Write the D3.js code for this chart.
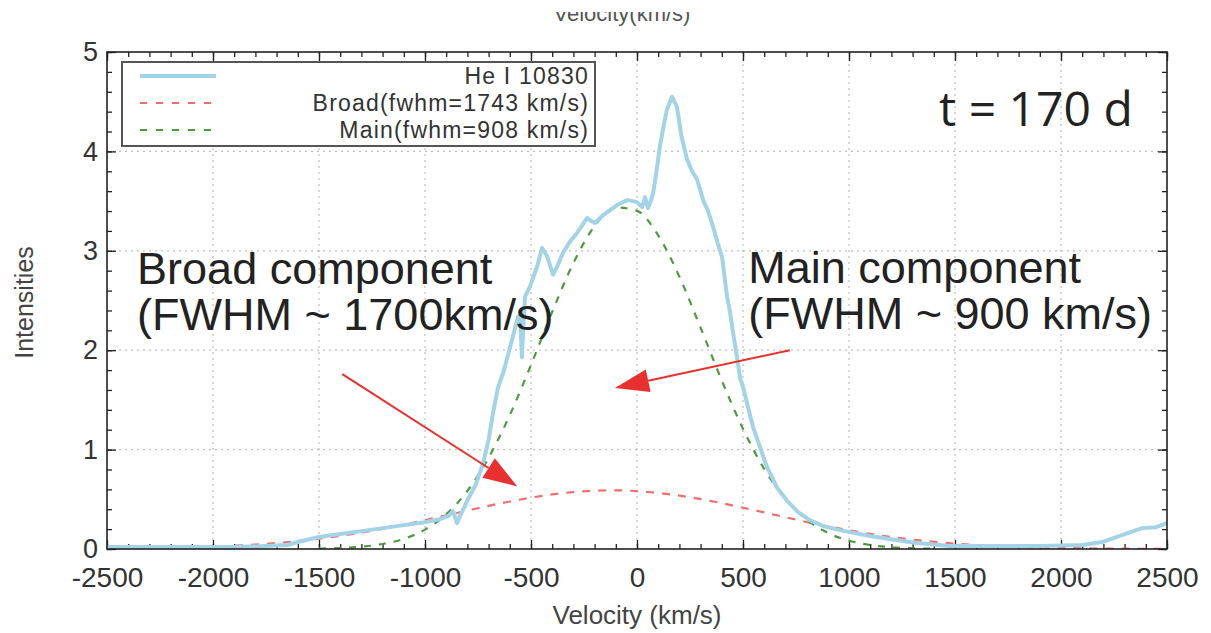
<!DOCTYPE html>
<html>
<head>
<meta charset="utf-8">
<script src="https://cdn.jsdelivr.net/npm/d3@7"></script>
<style>
  html, body { margin: 0; padding: 0; background: #fff; }
  svg { display: block; }
</style>
</head>
<body>
<svg id="chart" width="1211" height="633"></svg>
<script>
// ---------- data ----------
const heVelocity = [-2500,-2300,-2100,-1900,-1750,-1650,-1600,-1500,-1400,-1300,-1200,-1100,-1000,-930,-890,-868,-855,-849,-835,-800,-760,-726,-700,-679,-656,-630,-590,-561,-550,-543,-536,-528,-505,-470,-448,-425,-396,-375,-349,-320,-283,-260,-236,-215,-198,-160,-120,-94,-47,-20,0,24,38,52,65,76,92,108,125,141,165,188,210,236,260,283,312,335,359,380,401,425,439,455,472,486,500,547,612,660,706,760,815,880,956,1004,1100,1191,1318,1474,1700,1900,2100,2194,2288,2382,2448,2500];
const heIntensity = [0.02,0.02,0.02,0.02,0.03,0.04,0.07,0.12,0.15,0.18,0.21,0.24,0.27,0.30,0.33,0.38,0.30,0.26,0.33,0.49,0.65,0.86,1.10,1.37,1.62,1.78,2.10,2.34,2.30,1.93,2.25,2.54,2.64,2.85,3.03,2.95,2.76,2.85,2.98,3.08,3.18,3.25,3.33,3.30,3.28,3.36,3.42,3.46,3.51,3.50,3.49,3.44,3.54,3.43,3.50,3.58,3.80,4.05,4.25,4.42,4.55,4.45,4.15,3.92,3.80,3.72,3.51,3.40,3.24,3.08,2.94,2.54,2.38,2.15,1.93,1.72,1.63,1.23,0.83,0.62,0.49,0.37,0.29,0.23,0.19,0.17,0.13,0.10,0.06,0.03,0.03,0.03,0.04,0.07,0.14,0.21,0.22,0.26];

const broadVelocity = [-2500,-2400,-2300,-2200,-2100,-2000,-1900,-1800,-1700,-1600,-1500,-1400,-1300,-1200,-1100,-1000,-900,-800,-700,-600,-500,-400,-300,-200,-100,0,100,200,300,400,500,600,700,800,900,1000,1100,1200,1300,1400,1500,1600,1700,1800,1900,2000,2100,2200,2300,2400,2500];
const broadIntensity = [0.003,0.005,0.008,0.011,0.017,0.023,0.033,0.045,0.060,0.080,0.104,0.132,0.166,0.203,0.245,0.291,0.338,0.387,0.434,0.478,0.517,0.549,0.573,0.587,0.590,0.582,0.564,0.537,0.502,0.461,0.415,0.368,0.319,0.272,0.228,0.188,0.152,0.120,0.094,0.072,0.054,0.040,0.029,0.020,0.014,0.010,0.007,0.004,0.003,0.002,0.001];

const mainVelocity = [-1500,-1400,-1300,-1200,-1100,-1000,-900,-800,-700,-600,-500,-400,-300,-200,-100,0,100,200,300,400,500,600,700,800,900,1000,1100,1200,1300,1400];
const mainIntensity = [0.004,0.010,0.023,0.050,0.102,0.195,0.349,0.584,0.917,1.347,1.852,2.386,2.877,3.249,3.436,3.402,3.155,2.739,2.226,1.695,1.209,0.806,0.504,0.295,0.162,0.083,0.040,0.018,0.008,0.003];

const seriesNames = ["He I 10830", "Broad(fwhm=1743 km/s)", "Main(fwhm=908 km/s)"];
const xTicks = [-2500,-2000,-1500,-1000,-500,0,500,1000,1500,2000,2500];
const yTicks = [0,1,2,3,4,5];

// ---------- layout ----------
const svg = d3.select("#chart");
const L = 107, R = 1167, T = 52, B = 549;
const x = d3.scaleLinear().domain([-2500, 2500]).range([L, R]);
const y = d3.scaleLinear().domain([0, 5]).range([B, T]);

const COL_HE = "#a3d3e6", COL_BROAD = "#f26d6d", COL_MAIN = "#4f9a40", COL_ARROW = "#e8312e";
const FONT = "'Liberation Sans', Arial, sans-serif";

svg.append("defs").append("clipPath").attr("id", "plotclip")
  .append("rect").attr("x", L).attr("y", T).attr("width", R - L).attr("height", B - T);
svg.select("defs").append("clipPath").attr("id", "topclip")
  .append("rect").attr("x", 0).attr("y", 12).attr("width", 1211).attr("height", 40);

// cut-off top axis label
svg.append("text").attr("x", 622).attr("y", 21).attr("text-anchor", "middle")
  .attr("clip-path", "url(#topclip)")
  .style("font-family", FONT).style("font-size", "22px").style("fill", "#555")
  .text("Velocity(km/s)");

// grid
const grid = svg.append("g").attr("stroke", "#bdbdbd").attr("stroke-width", 1.2).attr("stroke-dasharray", "2,4");
grid.selectAll(".gx").data(xTicks.slice(1, -1)).join("line")
  .attr("x1", d => x(d)).attr("x2", d => x(d)).attr("y1", T).attr("y2", B);
grid.selectAll(".gy").data(yTicks.slice(1, -1)).join("line")
  .attr("x1", L).attr("x2", R).attr("y1", d => y(d)).attr("y2", d => y(d));

// axes with inward ticks on all four sides
const xMinor = d3.range(-2500, 2501, 100);
const yMinor = d3.range(0, 5.001, 0.2);
function addAxis(axisFn, scale, values, size, transform) {
  const g = svg.append("g").attr("transform", transform)
    .call(axisFn(scale).tickValues(values).tickSize(size).tickFormat(""));
  g.select(".domain").remove();
  g.selectAll("line").attr("stroke", "#222").attr("stroke-width", 1.3);
}
addAxis(d3.axisTop, x, xMinor, 5, `translate(0,${B})`);
addAxis(d3.axisTop, x, xTicks, 9, `translate(0,${B})`);
addAxis(d3.axisBottom, x, xMinor, 5, `translate(0,${T})`);
addAxis(d3.axisBottom, x, xTicks, 9, `translate(0,${T})`);
addAxis(d3.axisRight, y, yMinor, 5, `translate(${L},0)`);
addAxis(d3.axisRight, y, yTicks, 9, `translate(${L},0)`);
addAxis(d3.axisLeft, y, yMinor, 5, `translate(${R},0)`);
addAxis(d3.axisLeft, y, yTicks, 9, `translate(${R},0)`);

// tick labels via axis generators (plain hyphen-minus as in the reference)
const xLab = svg.append("g").attr("transform", `translate(0,${B})`)
  .call(d3.axisBottom(x).tickValues(xTicks).tickSize(0).tickPadding(18).tickFormat(d => String(d)));
xLab.select(".domain").remove();
xLab.selectAll("text").style("font-family", FONT).style("font-size", "28px").style("fill", "#333");
const yLab = svg.append("g").attr("transform", `translate(${L},0)`)
  .call(d3.axisLeft(y).tickValues(yTicks).tickSize(0).tickPadding(9).tickFormat(d => String(d)));
yLab.select(".domain").remove();
yLab.selectAll("text").style("font-family", FONT).style("font-size", "27px").style("fill", "#333");

// axis titles
svg.append("text").attr("x", (L + R) / 2).attr("y", 624).attr("text-anchor", "middle")
  .style("font-family", FONT).style("font-size", "26px").style("fill", "#444").text("Velocity (km/s)");
svg.append("text").attr("transform", `translate(33,${(T + B) / 2 + 2}) rotate(-90)`).attr("text-anchor", "middle")
  .style("font-family", FONT).style("font-size", "25px").style("fill", "#444").text("Intensities");

// curves
const plot = svg.append("g").attr("clip-path", "url(#plotclip)");
const line = d3.line().x(d => x(d[0])).y(d => y(d[1]));
plot.append("path").datum(d3.zip(broadVelocity, broadIntensity)).attr("d", line.curve(d3.curveMonotoneX))
  .attr("fill", "none").attr("stroke", COL_BROAD).attr("stroke-width", 2.2).attr("stroke-dasharray", "8,8");
plot.append("path").datum(d3.zip(mainVelocity, mainIntensity)).attr("d", line.curve(d3.curveMonotoneX))
  .attr("fill", "none").attr("stroke", COL_MAIN).attr("stroke-width", 2.2).attr("stroke-dasharray", "7,8");
plot.append("path").datum(d3.zip(heVelocity, heIntensity)).attr("d", line.curve(d3.curveLinear))
  .attr("fill", "none").attr("stroke", COL_HE).attr("stroke-width", 4).attr("stroke-linejoin", "round");

// frame
svg.append("rect").attr("x", L).attr("y", T).attr("width", R - L).attr("height", B - T)
  .attr("fill", "none").attr("stroke", "#222").attr("stroke-width", 1.6);

// legend
const leg = svg.append("g");
leg.append("rect").attr("x", 122).attr("y", 62).attr("width", 473).attr("height", 84)
  .attr("fill", "#fff").attr("stroke", "#555").attr("stroke-width", 2);
const legStyles = [
  {c: COL_HE, w: 4, dash: null},
  {c: COL_BROAD, w: 2.2, dash: "7,9"},
  {c: COL_MAIN, w: 2.2, dash: "7,9"}
];
seriesNames.forEach((name, i) => {
  const cy = 76 + i * 27;
  leg.append("line").attr("x1", 140).attr("x2", 216).attr("y1", cy).attr("y2", cy)
    .attr("stroke", legStyles[i].c).attr("stroke-width", legStyles[i].w)
    .attr("stroke-dasharray", legStyles[i].dash);
  leg.append("text").attr("x", 589).attr("y", cy + 8).attr("text-anchor", "end")
    .style("font-family", FONT).style("font-size", "23px").style("letter-spacing", "1.2px")
    .style("fill", "#333").text(name);
});

// annotations (positioned in data units)
const annoText = [
  {v: -2358, i: 2.67, s: "Broad component"},
  {v: -2358, i: 2.205, s: "(FWHM ~ 1700km/s)"},
  {v: 525, i: 2.68, s: "Main component"},
  {v: 525, i: 2.215, s: "(FWHM ~ 900 km/s)"}
];
svg.selectAll(".anno").data(annoText).join("text")
  .attr("x", d => x(d.v)).attr("y", d => y(d.i))
  .style("font-family", FONT).style("font-size", "45px").style("fill", "#222").text(d => d.s);
svg.append("text").attr("x", x(1425)).attr("y", y(4.26))
  .style("font-family", "'Open Sans', sans-serif").style("font-size", "48px").style("fill", "#222").text("t = 170 d");

const arrows = [
  {v0: -1390, i0: 1.76, v1: -565, i1: 0.63},
  {v0: 721, i0: 2.00, v1: -104, i1: 1.62}
];
arrows.forEach(a => {
  const x0 = x(a.v0), y0 = y(a.i0), x1 = x(a.v1), y1 = y(a.i1);
  const dx = x1 - x0, dy = y1 - y0, len = Math.hypot(dx, dy);
  const ux = dx / len, uy = dy / len, hl = 34, hw = 11.5;
  const bx = x1 - ux * hl, by = y1 - uy * hl;
  svg.append("line").attr("x1", x0).attr("y1", y0).attr("x2", bx).attr("y2", by)
    .attr("stroke", COL_ARROW).attr("stroke-width", 2);
  svg.append("path")
    .attr("d", `M${x1},${y1}L${bx - uy * hw},${by + ux * hw}L${bx + uy * hw},${by - ux * hw}Z`)
    .attr("fill", COL_ARROW);
});
</script>
</body>
</html>
